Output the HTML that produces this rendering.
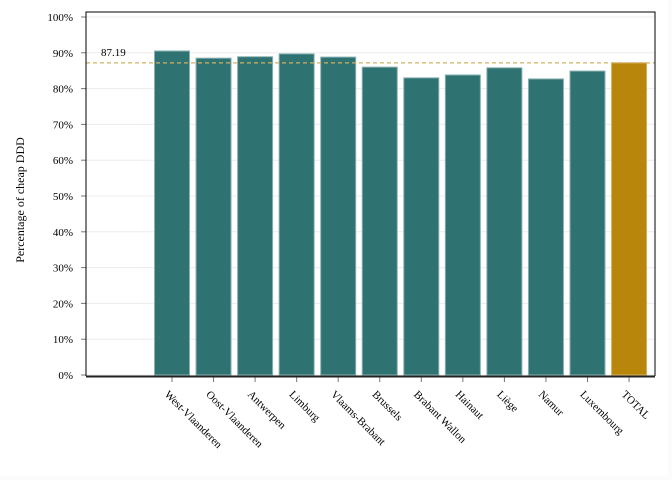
<!DOCTYPE html>
<html><head><meta charset="utf-8"><style>
body{margin:0;background:#fff}
svg{display:block;font-family:"Liberation Serif",serif}
</style></head><body>
<svg id="c" width="672" height="480">
<rect x="0" y="0" width="672" height="480" fill="#fbfbfb"/>
<rect x="0" y="0" width="668" height="476" fill="#fff"/>
</svg>
<script>
const categories=["West-Vlaanderen","Oost-Vlaanderen","Antwerpen","Limburg","Vlaams-Brabant","Brussels","Brabant Wallon","Hainaut","Liège","Namur","Luxembourg","TOTAL"];
const values=[90.5,88.5,88.9,89.7,88.8,86.0,83.0,83.8,85.8,82.7,84.9,87.19];
const average=87.19;
const yTicks=[0,10,20,30,40,50,60,70,80,90,100];
const NS="http://www.w3.org/2000/svg",svg=document.getElementById('c');
const L=86,R=655,T=12,B=375,Y100=17;
const y=v=>B-(B-Y100)*v/100;
const x0=172,step=41.55,bw=35;
const xc=i=>x0+i*step;
function mk(t,a,p){const e=document.createElementNS(NS,t);for(const k in a)e.setAttribute(k,a[k]);(p||svg).appendChild(e);return e;}
const g=mk('g',{});


yTicks.forEach(v=>{
 const gl=mk('line',{x1:L,x2:R,y1:y(v),y2:y(v),stroke:'#ececec','stroke-width':1},g);
 
 
 mk('line',{x1:L-5,x2:L,y1:y(v),y2:y(v),stroke:'#777'},g);
 const t=mk('text',{x:L-13,y:y(v)+4,'text-anchor':'end','font-size':11},g);
 t.textContent=v+'%';
 
 
});
categories.forEach((c,i)=>{
 const r=mk('rect',{x:xc(i)-bw/2,y:y(values[i]),width:bw,height:B-y(values[i]),fill:i==categories.length-1?'#b8860b':'#2e7272',stroke:i==categories.length-1?'#d4b060':'#8ab0b0','stroke-width':1});
 
 
 mk('line',{x1:xc(i),x2:xc(i),y1:B+2,y2:B+7,stroke:'#777'});
 const t=mk('text',{x:xc(i)-8,y:B+20,'font-size':11,transform:`rotate(45 ${xc(i)-8} ${B+20})`});
 t.textContent=c;
 
 
});
const al=mk('line',{x1:L,x2:R,y1:y(average),y2:y(average),stroke:'#d4b060','stroke-width':1.3,'stroke-dasharray':'4,3'});


const at=mk('text',{x:101,y:y(average)-7,'font-size':11});
at.textContent=average.toFixed(2);


const fr=mk('path',{d:`M${L},${B+1}V${T}H${R}V${B+1}`,fill:'none',stroke:'#000','stroke-width':1});


const xa=mk('line',{x1:L,x2:R,y1:B+1.5,y2:B+1.5,stroke:'#222','stroke-width':2});


const yt=mk('text',{x:24,y:200,'font-size':12,'text-anchor':'middle',transform:'rotate(-90 24 200)'});
yt.textContent='Percentage of cheap DDD';


</script>
</body></html>
